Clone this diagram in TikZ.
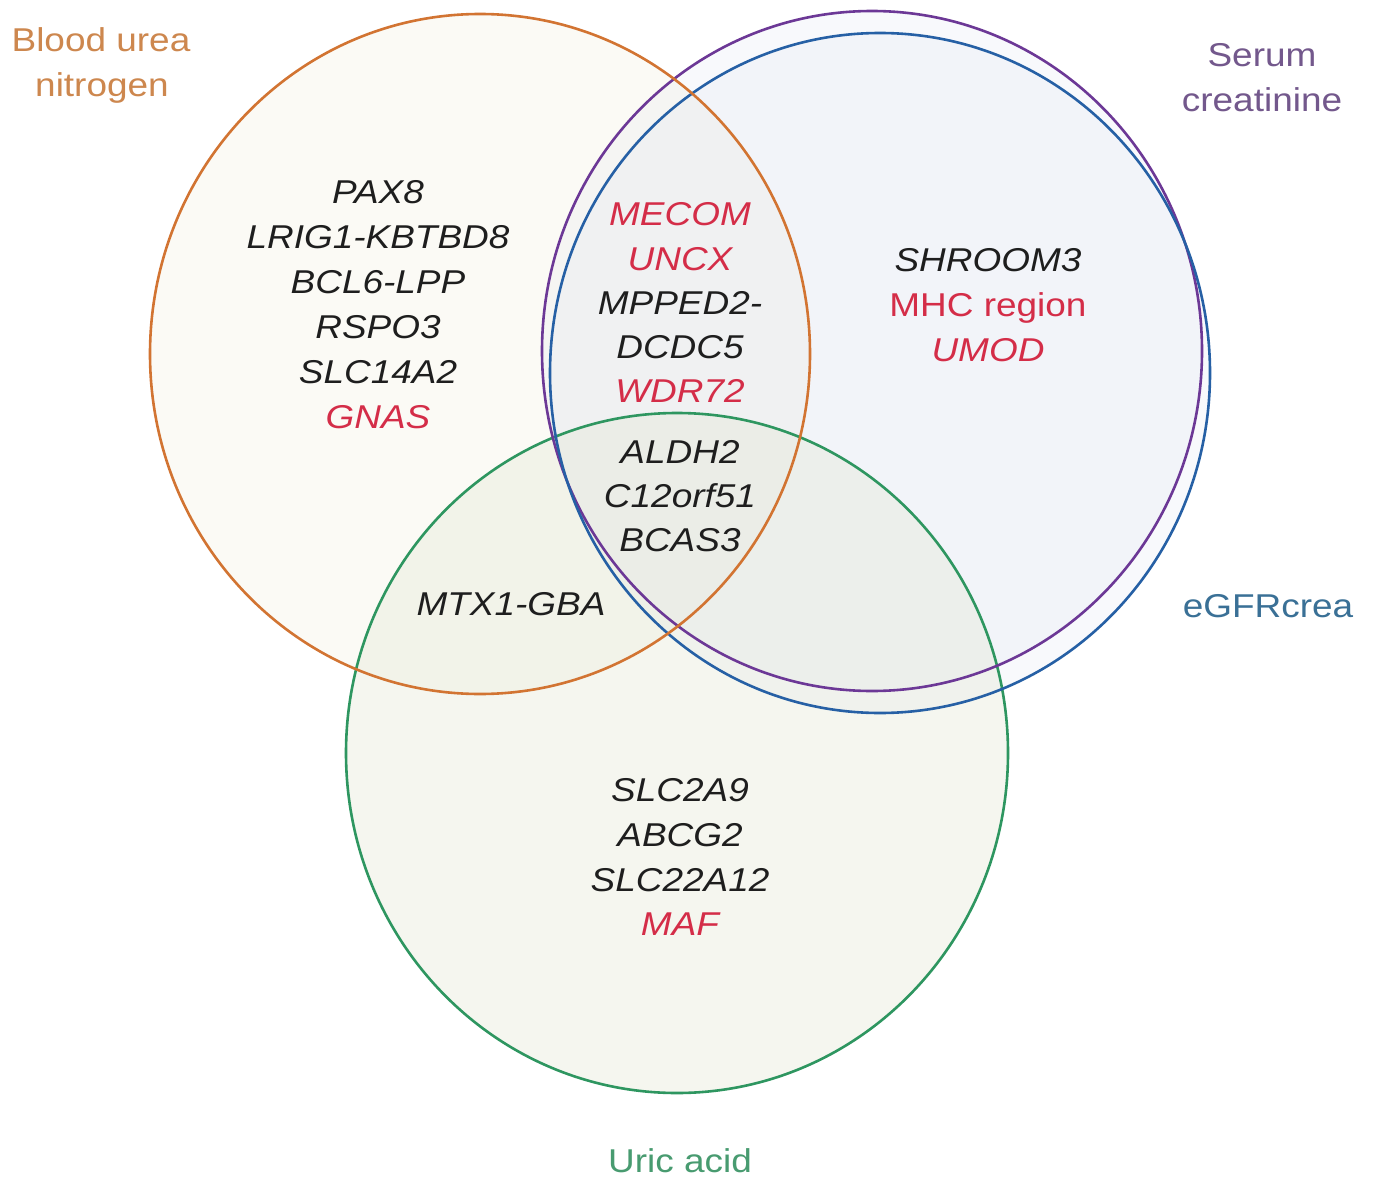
\documentclass[tikz,border=0pt]{standalone}
\usepackage{fontspec}
\setmainfont[FakeStretch=1.12]{Liberation Sans}
\newcommand\genesize{\fontsize{33}{40}\selectfont}
\definecolor{orangeline}{RGB}{210,116,50}
\definecolor{orangetext}{RGB}{205,135,78}
\definecolor{purpleline}{RGB}{108,56,150}
\definecolor{purpletext}{RGB}{115,88,140}
\definecolor{blueline}{RGB}{38,96,165}
\definecolor{bluetext}{RGB}{58,112,150}
\definecolor{greenline}{RGB}{46,150,96}
\definecolor{greentext}{RGB}{72,155,112}
\definecolor{genered}{RGB}{212,45,72}
\definecolor{geneblack}{RGB}{30,30,30}
\definecolor{orangefill}{RGB}{245,240,222}
\definecolor{bluefill}{RGB}{215,222,238}
\definecolor{greenfill}{RGB}{226,230,208}
\tikzset{
  gene/.style={font=\genesize\itshape, text=geneblack, inner sep=0pt, anchor=base},
  redgene/.style={gene, text=genered},
  setlabel/.style={font=\genesize, inner sep=0pt, anchor=base},
  ring/.style={line width=2.6pt},
}
\begin{document}
\begin{tikzpicture}[x=1pt,y=-1pt]
\useasboundingbox (0,0) rectangle (1373,1180);
\fill[white] (0,0) rectangle (1373,1180);
% fills
\fill[orangefill, fill opacity=0.3] (480,354) ellipse [x radius=330pt, y radius=340pt];
\fill[bluefill, fill opacity=0.16] (872,351) ellipse [x radius=330pt, y radius=340pt];
\fill[bluefill, fill opacity=0.16] (880,373) ellipse [x radius=330pt, y radius=340pt];
\fill[greenfill, fill opacity=0.32] (677,753) ellipse [x radius=331pt, y radius=340pt];
% outlines
\draw[ring, greenline] (677,753) ellipse [x radius=331pt, y radius=340pt];
\draw[ring, purpleline] (872,351) ellipse [x radius=330pt, y radius=340pt];
\draw[ring, blueline] (880,373) ellipse [x radius=330pt, y radius=340pt];
\draw[ring, orangeline] (480,354) ellipse [x radius=330pt, y radius=340pt];
% set labels
\node[setlabel, text=orangetext] (bun1) at (101,52) {Blood urea};
\node[setlabel, text=orangetext] (bun2) at (102,97) {nitrogen};
\node[setlabel, text=purpletext] (sc1) at (1262,67) {Serum};
\node[setlabel, text=purpletext] (sc2) at (1262,112) {creatinine};
\node[setlabel, text=bluetext] (egfr) at (1268,617) {eGFRcrea};
\node[setlabel, text=greentext] (uric) at (680,1172) {Uric acid};
% blood urea nitrogen only
\node[gene] (g1) at (378,203) {PAX8};
\node[gene] (g2) at (378,248) {LRIG1-KBTBD8};
\node[gene] (g3) at (378,293) {BCL6-LPP};
\node[gene] (g4) at (378,338) {RSPO3};
\node[gene] (g5) at (378,383) {SLC14A2};
\node[redgene] (g6) at (378,428) {GNAS};
% BUN & creatinine & eGFR
\node[redgene] (m1) at (680,225) {MECOM};
\node[redgene] (m2) at (680,270) {UNCX};
\node[gene] (m3) at (680,314) {MPPED2-};
\node[gene] (m4) at (680,358) {DCDC5};
\node[redgene] (m5) at (680,402) {WDR72};
% all four
\node[gene] (t1) at (680,463) {ALDH2};
\node[gene] (t2) at (680,507) {C12orf51};
\node[gene] (t3) at (680,551) {BCAS3};
% creatinine & eGFR only
\node[gene] (r1) at (988,271) {SHROOM3};
\node[setlabel, text=genered] (r2) at (988,316) {MHC region};
\node[redgene] (r3) at (988,361) {UMOD};
% BUN & uric acid
\node[gene] (bu) at (511,615) {MTX1-GBA};
% uric acid only
\node[gene] (u1) at (680,801) {SLC2A9};
\node[gene] (u2) at (680,846) {ABCG2};
\node[gene] (u3) at (680,891) {SLC22A12};
\node[redgene] (u4) at (680,935) {MAF};
\end{tikzpicture}
\end{document}
